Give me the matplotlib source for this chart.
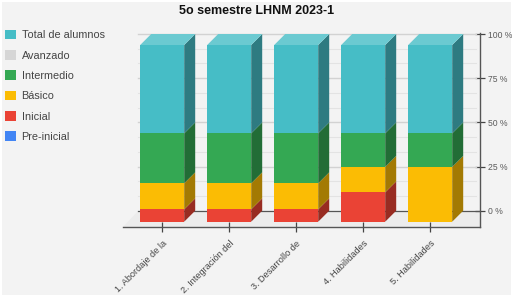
#!/usr/bin/env python3
# -*- coding: utf-8 -*-

import matplotlib
matplotlib.use("Agg")
import matplotlib.pyplot as plt
from matplotlib.patches import Patch, Rectangle

categories = ["1. Abordaje de la", "2. Integración del", "3. Desarrollo de",
              "4. Habilidades", "5. Habilidades"]

pre_inicial = [0, 0, 0, 0, 0]
inicial = [7, 7, 7, 16.6, 0]
basico = [14.7, 14.7, 14.7, 14.4, 31]
intermedio = [28.3, 28.3, 28.3, 19, 19]
avanzado = [0, 0, 0, 0, 0]
total_alumnos = [50, 50, 50, 50, 50]

y_ticks = [0, 25, 50, 75, 100]
y_labels = ["0 %", "25 %", "50 %", "75 %", "100 %"]
grid_minor = [8.33, 16.67, 33.33, 41.67, 58.33, 66.67, 83.33, 91.67]

legend_names = ["Total de alumnos", "Avanzado", "Intermedio", "Básico", "Inicial", "Pre-inicial"]
legend_colors = ["#46BDC6", "#D6D6D6", "#34A853", "#FBBC04", "#EA4335", "#4285F4"]

W, H = 512, 295
PLOT_L, PLOT_R, PLOT_T, PLOT_B = 122.7, 480, 33.5, 226.7
CENTER0 = 162.2   # px of the first category
STEP = 67.0       # px per category
UNIT = 1.767      # px per percent
DEPTH = 11.0      # px of the oblique offset
BAR_W = 44.0 / STEP

dx = DEPTH / STEP
dy = DEPTH / UNIT


def side_color(c):
    r, g, b = matplotlib.colors.to_rgb(c)
    return (r * 0.65, g * 0.65, b * 0.65)


def top_color(c):
    r, g, b = matplotlib.colors.to_rgb(c)
    return (r + (1 - r) * 0.2, g + (1 - g) * 0.2, b + (1 - b) * 0.2)


def main():
    plt.rcParams['font.family'] = ['Liberation Sans', 'DejaVu Sans']

    fig = plt.figure(figsize=(W / 100, H / 100), dpi=100, facecolor="white")
    fig.add_artist(Rectangle((2 / W, 0), (W - 3) / W, (H - 2) / H,
                             transform=fig.transFigure, fc="#F3F3F3", ec="none", zorder=-5))

    ax = fig.add_axes([PLOT_L / W, 1 - PLOT_B / H, (PLOT_R - PLOT_L) / W, (PLOT_B - PLOT_T) / H])
    ax.patch.set_alpha(0)
    ax.set_xlim((PLOT_L - CENTER0) / STEP, (PLOT_R - CENTER0) / STEP)
    ax.set_ylim(-(PLOT_B - 221.7) / UNIT, (221.7 - PLOT_T) / UNIT)

    x = list(range(len(categories)))
    wall_l = (138 - CENTER0) / STEP
    wall_r = (476 - CENTER0) / STEP

    # floor and back wall lines
    ax.fill([wall_l, ax.get_xlim()[1], ax.get_xlim()[1], ax.get_xlim()[0]],
            [dy, dy, ax.get_ylim()[0], ax.get_ylim()[0]], color="#ECECEC", lw=0, zorder=1)
    for v in grid_minor:
        ax.plot([wall_l, wall_r], [v + dy, v + dy], color="#E3E3E3", lw=0.8, zorder=1.5)
    for v in y_ticks[1:]:
        ax.plot([wall_l, wall_r], [v + dy, v + dy], color="#D2D2D2", lw=1.0, zorder=1.6,
                clip_on=False)
    ax.plot([wall_l, ax.get_xlim()[1]], [dy, dy], color="#555555", lw=0.9, zorder=1.7)

    # stacks from the bottom up
    series = [(pre_inicial, "#4285F4"), (inicial, "#EA4335"), (basico, "#FBBC04"),
              (intermedio, "#34A853"), (avanzado, "#D6D6D6"), (total_alumnos, "#46BDC6")]
    bottoms = [0.0] * len(x)
    for values, color in series:
        ax.bar(x, values, width=BAR_W, bottom=bottoms, color=color, lw=0, zorder=3)
        for i in x:
            if values[i] <= 0:
                continue
            b = bottoms[i]
            t = b + values[i]
            r = i + BAR_W / 2
            ax.fill([r, r + dx, r + dx, r], [b, b + dy, t + dy, t],
                    color=side_color(color), lw=0, zorder=3)
        bottoms = [b + v for b, v in zip(bottoms, values)]

    for i in x:
        t = bottoms[i]
        l = i - BAR_W / 2
        r = i + BAR_W / 2
        ax.fill([l, r, r + dx, l + dx], [t, t, t + dy, t + dy],
                color=top_color("#46BDC6"), lw=0, zorder=3, clip_on=False)

    for name in ("top", "left"):
        ax.spines[name].set_visible(False)
    for name in ("bottom", "right"):
        ax.spines[name].set_color("#555555")
        ax.spines[name].set_linewidth(1.0)

    ax.yaxis.tick_right()
    ax.set_yticks([v + dy for v in y_ticks])
    ax.set_yticklabels(y_labels)
    ax.tick_params(axis="y", direction="inout", length=7.2, width=0.9, color="#444444",
                   labelsize=6.2, labelcolor="#5A5A5A", pad=2.5)
    ax.set_xticks(x)
    ax.set_xticklabels(categories, rotation=45, ha="right", rotation_mode="anchor")
    ax.tick_params(axis="x", direction="inout", length=7.2, width=0.9, color="#444444",
                   labelsize=6.6, labelcolor="#444444", pad=5)

    fig.text(257 / W, 1 - 10.5 / H, "5o semestre LHNM 2023-1", ha="center", va="center",
             fontsize=9, fontweight="bold", color="#111111")

    handles = [Patch(facecolor=c, edgecolor="none") for c in legend_colors]
    fig.legend(handles, legend_names, loc="upper left", bbox_to_anchor=(1.5 / W, 1 - 26.5 / H),
               frameon=False, fontsize=7.8, labelcolor="#444444", handlelength=1.0,
               handleheight=1.0, handletextpad=0.55, labelspacing=0.9, borderpad=0.3,
               borderaxespad=0)

    fig.savefig("out.png", dpi=100, facecolor=fig.get_facecolor())


if __name__ == '__main__':
    main()
